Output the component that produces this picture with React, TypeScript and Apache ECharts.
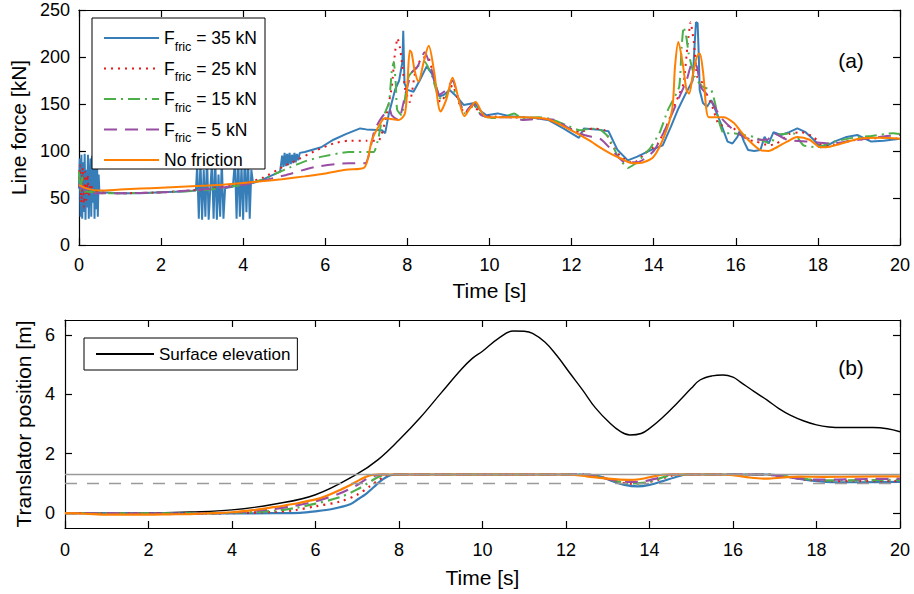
import React, { useEffect, useRef } from "react";
import * as echarts from "echarts";

// ---------- data ----------
const seriesNames = ["Ffric = 35 kN", "Ffric = 25 kN", "Ffric = 15 kN", "Ffric = 5 kN", "No friction"];
const surfaceName = "Surface elevation";
const limitLevels = [1.3, 1.0];
const yTicksBottom = [0, 2, 4, 6];

// Line force [kN] vs time [s]
const force35: [number, number][] = [
  [0, 60], [0.02, 92], [0.04, 30], [0.06, 96], [0.08, 28], [0.1, 88], [0.12, 35], [0.14, 97], [0.16, 27], [0.18, 80],
  [0.2, 40], [0.22, 96], [0.24, 28], [0.26, 70], [0.28, 92], [0.3, 30], [0.32, 95], [0.34, 45], [0.36, 97], [0.38, 28],
  [0.4, 85], [0.42, 38], [0.44, 96], [0.46, 30], [0.48, 75], [0.5, 55], [0.55, 56], [1, 55], [1.5, 55], [2, 56], [2.5, 57], [2.85, 58],
  [2.88, 85], [2.92, 28], [2.96, 90], [3.0, 27], [3.04, 80], [3.08, 30], [3.12, 95], [3.16, 27], [3.2, 60], [3.24, 88],
  [3.28, 28], [3.32, 92], [3.36, 27], [3.4, 75], [3.44, 30], [3.48, 90], [3.52, 28], [3.56, 60], [3.6, 61], [3.75, 62],
  [3.8, 90], [3.84, 28], [3.88, 95], [3.92, 30], [3.96, 85], [4.0, 27], [4.04, 97], [4.08, 35], [4.12, 92], [4.16, 28],
  [4.2, 80], [4.24, 66], [4.5, 70], [4.9, 78],
  [4.95, 95], [4.98, 83], [5.01, 98], [5.04, 84], [5.07, 97], [5.1, 85], [5.13, 98], [5.16, 86], [5.19, 96], [5.22, 87],
  [5.25, 98], [5.28, 88], [5.31, 97], [5.34, 90], [5.38, 98],
  [5.5, 99], [5.9, 104], [6.2, 112], [6.5, 118], [6.85, 124], [7.0, 123], [7.38, 122], [7.46, 119], [7.55, 140], [7.7, 165],
  [7.8, 175], [7.88, 195], [7.9, 228], [7.93, 172], [8.0, 165], [8.15, 163], [8.3, 175], [8.47, 190], [8.6, 182], [8.78, 158],
  [8.9, 160], [9.03, 165], [9.2, 158], [9.37, 149], [9.5, 150], [9.64, 151], [9.8, 142], [9.93, 138], [10.2, 140], [10.5, 137],
  [10.8, 136], [11.1, 135], [11.43, 133], [11.8, 124], [12.18, 114], [12.3, 124], [12.6, 123], [12.9, 121], [13.12, 101], [13.37, 90],
  [13.6, 94], [13.93, 101], [14.22, 106], [14.42, 126], [14.6, 145], [14.78, 161], [14.95, 175], [15.0, 215], [15.03, 237], [15.07, 236],
  [15.1, 200], [15.12, 165], [15.2, 151], [15.3, 147], [15.4, 154], [15.5, 144], [15.63, 130], [15.8, 110], [15.92, 108], [16.04, 115],
  [16.1, 122], [16.2, 110], [16.3, 101], [16.45, 100], [16.6, 101], [16.7, 115], [16.8, 108], [16.92, 120], [17.1, 117], [17.3, 120],
  [17.5, 124], [17.7, 120], [17.9, 112], [18.06, 104], [18.2, 105], [18.4, 110], [18.7, 115], [18.96, 117], [19.3, 110], [19.6, 111], [20, 113],
];
const force25: [number, number][] = [
  [0, 70], [0.03, 85], [0.06, 45], [0.09, 82], [0.12, 40], [0.15, 78], [0.18, 48], [0.21, 75], [0.24, 52], [0.28, 65], [0.35, 58],
  [0.5, 56], [1, 55], [2, 56], [3, 59], [4, 65], [4.5, 72], [5, 84], [5.2, 88], [5.75, 100], [6.2, 108], [6.57, 111], [7.0, 111],
  [7.3, 111], [7.45, 130], [7.62, 168], [7.7, 205], [7.76, 220], [7.82, 210], [7.88, 190], [7.95, 165], [8.06, 152], [8.2, 186],
  [8.35, 199], [8.5, 200], [8.65, 178], [8.8, 152], [8.95, 160], [9.1, 170], [9.25, 152], [9.4, 140], [9.6, 148], [9.8, 140],
  [10.0, 137], [10.5, 136], [11, 135], [11.4, 134], [11.8, 127], [12.2, 120], [12.5, 124], [12.8, 122], [12.96, 108], [13.2, 94],
  [13.5, 87], [13.8, 98], [14.1, 108], [14.3, 125], [14.47, 144], [14.6, 158], [14.73, 172], [14.83, 215], [14.9, 237], [14.98, 215],
  [15.06, 179], [15.2, 172], [15.3, 160], [15.43, 147], [15.58, 128], [15.7, 127], [15.9, 126], [16.1, 118], [16.3, 112], [16.5, 110],
  [16.8, 106], [17.0, 108], [17.3, 118], [17.6, 120], [17.9, 115], [18.1, 106], [18.4, 107], [18.8, 111], [19.2, 113], [19.6, 114], [20, 113],
];
const force15: [number, number][] = [
  [0, 78], [0.04, 58], [0.08, 72], [0.12, 56], [0.2, 57], [0.5, 55], [1, 55], [2, 56], [3, 58], [4, 64], [4.5, 70], [5, 80],
  [5.5, 89], [5.92, 94], [6.57, 99], [7.18, 99], [7.3, 115], [7.38, 133], [7.55, 151], [7.62, 185], [7.67, 195], [7.72, 170],
  [7.75, 144], [7.86, 138], [8.03, 179], [8.2, 188], [8.42, 195], [8.6, 180], [8.76, 157], [8.9, 155], [9.05, 168], [9.2, 160],
  [9.4, 140], [9.6, 150], [9.8, 138], [10.1, 135], [10.4, 137], [10.6, 140], [10.8, 135], [11.2, 136], [11.5, 134], [11.9, 127],
  [12.2, 122], [12.47, 124], [12.72, 122], [12.9, 115], [13.13, 94], [13.37, 82], [13.6, 88], [13.93, 104], [14.15, 120], [14.35, 144],
  [14.62, 168], [14.68, 210], [14.73, 232], [14.8, 220], [14.85, 204], [15.0, 179], [15.2, 168], [15.4, 165], [15.5, 150], [15.58, 133],
  [15.7, 119], [15.95, 119], [16.2, 117], [16.43, 115], [16.84, 108], [17.0, 117], [17.4, 119], [17.65, 106], [17.98, 104], [18.4, 110],
  [18.86, 114], [19.3, 116], [19.83, 119], [20, 118],
];
const force5: [number, number][] = [
  [0, 65], [0.05, 60], [0.1, 62], [0.2, 56], [0.5, 55], [1, 55], [2, 56], [3, 59], [4, 64], [5, 74], [5.75, 83], [6.57, 87],
  [6.97, 87], [7.2, 122], [7.38, 136], [7.57, 144], [7.62, 138], [7.78, 133], [7.95, 160], [8.1, 183], [8.25, 190], [8.42, 205],
  [8.6, 185], [8.78, 160], [8.95, 165], [9.1, 175], [9.25, 155], [9.4, 141], [9.6, 150], [9.8, 138], [10.1, 136], [10.5, 136],
  [10.8, 133], [11.2, 134], [11.6, 133], [11.9, 125], [12.3, 117], [12.7, 113], [13.0, 100], [13.3, 88], [13.6, 88], [14.0, 100],
  [14.3, 125], [14.6, 155], [14.8, 175], [14.95, 195], [15.05, 190], [15.15, 168], [15.3, 160], [15.45, 150], [15.63, 136], [15.95, 122],
  [16.2, 115], [16.43, 112], [16.77, 112], [16.9, 119], [17.25, 112], [17.74, 110], [18.3, 108], [18.7, 110], [19.0, 112], [19.5, 115], [20, 117],
];
const forceNone: [number, number][] = [
  [0, 64], [0.2, 60], [0.5, 58], [1, 59], [1.5, 60], [2, 61], [2.5, 62], [3, 63], [3.5, 64], [4, 66], [4.5, 68], [4.95, 70],
  [5.5, 73], [6, 76], [6.5, 80], [6.94, 82], [7.14, 112], [7.3, 126], [7.46, 135], [7.6, 134], [7.79, 133], [7.94, 140], [8.0, 170],
  [8.06, 207], [8.1, 205], [8.18, 185], [8.27, 174], [8.4, 195], [8.52, 212], [8.65, 185], [8.81, 142], [8.95, 155], [9.1, 178],
  [9.25, 155], [9.39, 137], [9.52, 145], [9.66, 152], [9.8, 142], [9.93, 136], [10.3, 136], [10.8, 136], [11.4, 134], [11.9, 124],
  [12.4, 112], [12.72, 103], [12.96, 97], [13.2, 92], [13.5, 87], [13.75, 88], [14.0, 94], [14.25, 115], [14.45, 144], [14.52, 190],
  [14.6, 216], [14.7, 195], [14.8, 165], [14.86, 161], [14.95, 180], [15.05, 200], [15.12, 204], [15.2, 185], [15.34, 136], [15.5, 136],
  [15.7, 136], [15.95, 130], [16.1, 122], [16.3, 112], [16.6, 101], [16.8, 100], [17.0, 104], [17.25, 110], [17.5, 115], [17.8, 112],
  [18.06, 104], [18.2, 104], [18.5, 107], [19.0, 113], [19.5, 114], [20, 113],
];

// Translator position / surface elevation [m] vs time [s]
const surface: [number, number][] = [
  [0, 0], [1, 0], [2, 0.01], [3, 0.04], [4, 0.11], [5, 0.3], [6, 0.62], [7, 1.32], [7.5, 1.8], [8, 2.46], [8.5, 3.2], [9, 4.03],
  [9.5, 4.85], [9.75, 5.2], [10, 5.45], [10.4, 5.9], [10.74, 6.13], [11.0, 6.12], [11.2, 6.05], [11.5, 5.75], [11.77, 5.32], [12.1, 4.7],
  [12.4, 4.14], [12.7, 3.55], [13.05, 3.03], [13.3, 2.75], [13.53, 2.63], [13.8, 2.68], [14.01, 2.86], [14.3, 3.2], [14.66, 3.7],
  [15.0, 4.2], [15.21, 4.48], [15.5, 4.62], [15.76, 4.65], [16.0, 4.58], [16.17, 4.42], [16.5, 4.1], [16.81, 3.81], [17.1, 3.52],
  [17.37, 3.3], [17.7, 3.1], [18.0, 2.97], [18.3, 2.9], [18.63, 2.88], [19.0, 2.88], [19.35, 2.88], [19.7, 2.84], [20, 2.74],
];
const pos35: [number, number][] = [
  [0, 0], [2, -0.01], [4, -0.01], [5, 0], [5.63, 0.01], [6, 0.06], [6.4, 0.14], [6.83, 0.3], [7.0, 0.45], [7.22, 0.66], [7.4, 0.88],
  [7.54, 1.06], [7.68, 1.2], [7.8, 1.28], [8, 1.3], [12.5, 1.3], [12.8, 1.24], [13.1, 1.08], [13.4, 0.95], [13.72, 0.9], [14.0, 0.95],
  [14.3, 1.07], [14.6, 1.2], [14.9, 1.3], [16.8, 1.3], [17.2, 1.25], [17.6, 1.15], [18, 1.08], [18.4, 1.04], [19, 1.04], [20, 1.05],
];
const pos25: [number, number][] = [
  [0, 0], [3, -0.01], [4, 0], [5, 0.04], [5.5, 0.1], [6, 0.23], [6.59, 0.39], [7.0, 0.62], [7.3, 0.9], [7.5, 1.1], [7.7, 1.27],
  [7.85, 1.3], [12.5, 1.3], [12.9, 1.2], [13.2, 1.06], [13.6, 0.99], [13.9, 1.02], [14.2, 1.12], [14.5, 1.25], [14.75, 1.3],
  [16.8, 1.3], [17.3, 1.22], [17.8, 1.12], [18.3, 1.08], [19, 1.08], [20, 1.08],
];
const pos15: [number, number][] = [
  [0, 0], [3, -0.01], [4, 0.01], [5, 0.08], [5.5, 0.17], [6, 0.32], [6.59, 0.54], [7.0, 0.8], [7.3, 1.05], [7.5, 1.22], [7.7, 1.3],
  [12.4, 1.3], [12.8, 1.22], [13.2, 1.08], [13.6, 1.0], [13.9, 1.03], [14.2, 1.15], [14.5, 1.28], [14.7, 1.3], [16.8, 1.3],
  [17.3, 1.24], [17.8, 1.14], [18.3, 1.1], [19, 1.11], [20, 1.12],
];
const pos5: [number, number][] = [
  [0, 0], [3, -0.02], [4, 0.02], [5, 0.14], [5.5, 0.25], [6, 0.4], [6.59, 0.67], [7.0, 0.95], [7.25, 1.17], [7.5, 1.29], [7.6, 1.3],
  [12.3, 1.3], [12.7, 1.24], [13.1, 1.12], [13.5, 1.05], [13.85, 1.07], [14.2, 1.18], [14.5, 1.3], [16.6, 1.3], [17.0, 1.27],
  [17.5, 1.18], [18, 1.13], [18.5, 1.13], [19.3, 1.15], [20, 1.16],
];
const posNone: [number, number][] = [
  [0, 0], [0.5, -0.02], [1, -0.05], [1.5, -0.05], [2, -0.05], [2.5, -0.04], [3, -0.03], [4, 0.03], [4.5, 0.1], [5, 0.2], [5.23, 0.25],
  [5.6, 0.34], [6.03, 0.47], [6.3, 0.6], [6.59, 0.78], [6.8, 0.92], [7.06, 1.12], [7.3, 1.27], [7.5, 1.3], [12.0, 1.3], [12.5, 1.24],
  [13.0, 1.16], [13.5, 1.12], [13.8, 1.15], [14.1, 1.24], [14.4, 1.3], [15.6, 1.3], [16.0, 1.28], [16.4, 1.2], [16.8, 1.16],
  [17.2, 1.2], [17.6, 1.23], [18.2, 1.22], [19, 1.23], [20, 1.24],
];

const forceData = [force35, force25, force15, force5, forceNone];
const posData = [pos35, pos25, pos15, pos5, posNone];

// ---------- styles ----------
const FONT = "Liberation Sans";
const colors = ["#377eb8", "#e41a1c", "#4daf4a", "#984ea3", "#ff7f00"];
const dashes: any[] = ["solid", [2, 5], [12, 5, 2, 5], [13, 8], "solid"];
const smoothing = [0, 0.15, 0.15, 0.2, 0.3];

function xAxisPair(grid: number, labelMargin: number, nameGap: number) {
  const common = {
    gridIndex: grid, type: "value", min: 0, max: 20, interval: 2,
    axisLine: { onZero: false, lineStyle: { color: "#000", width: 1.2 } },
    axisTick: { inside: true, length: 7, lineStyle: { color: "#000", width: 1.2 } },
    splitLine: { show: false },
  };
  return [
    {
      ...common, position: "bottom",
      axisLabel: { fontSize: 18, margin: labelMargin, color: "#000", fontFamily: FONT },
      name: "Time [s]", nameLocation: "middle", nameGap,
      nameTextStyle: { fontSize: 21, color: "#000", fontFamily: FONT },
    },
    { ...common, position: "top", axisLabel: { show: false } },
  ];
}

export default function App() {
  const ref = useRef<HTMLDivElement>(null);
  useEffect(() => {
    if (!ref.current) return;
    const chart = echarts.init(ref.current, null, { renderer: "svg" });

    const yCommon = {
      type: "value",
      axisLine: { onZero: false, lineStyle: { color: "#000", width: 1.2 } },
      axisTick: { inside: true, length: 7, lineStyle: { color: "#000", width: 1.2 } },
      splitLine: { show: false },
    };

    const series: any[] = [];
    // reference limits (drawn beneath)
    series.push({
      name: "limits", type: "line", xAxisIndex: 2, yAxisIndex: 2, data: [], silent: true,
      markLine: {
        symbol: ["none", "none"], silent: true, label: { show: false },
        data: [
          { yAxis: limitLevels[0], lineStyle: { color: "#9a9a9a", width: 1.3, type: "solid" } },
          { yAxis: limitLevels[1], lineStyle: { color: "#9a9a9a", width: 1.3, type: [12, 10] } },
        ],
      },
    });
    series.push({
      name: surfaceName, type: "line", xAxisIndex: 2, yAxisIndex: 2, data: surface, symbol: "none",
      smooth: 0.4, lineStyle: { color: "#000", width: 1.4 }, itemStyle: { color: "#000" },
    });
    seriesNames.forEach((n, i) => {
      series.push({
        name: n, type: "line", xAxisIndex: 0, yAxisIndex: 0, data: forceData[i], symbol: "none",
        smooth: smoothing[i], lineStyle: { color: colors[i], width: 2, type: dashes[i] }, itemStyle: { color: colors[i] },
      });
    });
    seriesNames.forEach((n, i) => {
      series.push({
        name: n, type: "line", xAxisIndex: 2, yAxisIndex: 2, data: posData[i], symbol: "none",
        smooth: 0.3, lineStyle: { color: colors[i], width: 2.2, type: dashes[i] }, itemStyle: { color: colors[i] },
      });
    });

    const legendRich = {
      F: { fontSize: 17.5, lineHeight: 30, fontFamily: FONT, color: "#000" },
      sub: { fontSize: 12.5, lineHeight: 14, verticalAlign: "bottom", fontFamily: FONT, color: "#000" },
      m: { fontSize: 17.5, lineHeight: 30, fontFamily: FONT, color: "#000" },
    };

    chart.setOption({
      animation: false,
      backgroundColor: "#fff",
      grid: [
        { left: 76, top: 10, width: 824, height: 235 },
        { left: 65, top: 320, width: 835, height: 208 },
      ],
      xAxis: [...xAxisPair(0, 11, 35), ...xAxisPair(1, 13, 39)],
      yAxis: [
        {
          ...yCommon, gridIndex: 0, position: "left", min: 0, max: 250, interval: 50,
          axisLabel: { fontSize: 18, margin: 9, color: "#000", fontFamily: FONT },
          name: "Line force [kN]", nameLocation: "middle", nameGap: 45,
          nameTextStyle: { fontSize: 21, color: "#000", fontFamily: FONT },
        },
        { ...yCommon, gridIndex: 0, position: "right", min: 0, max: 250, interval: 50, axisLabel: { show: false } },
        {
          ...yCommon, gridIndex: 1, position: "left", min: -0.5, max: 6.5,
          axisTick: { ...yCommon.axisTick, customValues: yTicksBottom },
          axisLabel: { fontSize: 18, margin: 10, color: "#000", fontFamily: FONT, customValues: yTicksBottom },
          name: "Translator position [m]", nameLocation: "middle", nameGap: 25,
          nameTextStyle: { fontSize: 21, color: "#000", fontFamily: FONT },
        },
        {
          ...yCommon, gridIndex: 1, position: "right", min: -0.5, max: 6.5,
          axisTick: { ...yCommon.axisTick, customValues: yTicksBottom },
          axisLabel: { show: false, customValues: yTicksBottom },
        },
      ],
      legend: [
        {
          data: seriesNames, orient: "vertical", left: 92, top: 18,
          itemWidth: 55, itemHeight: 14, itemGap: 6.5,
          padding: [11, 8, 0, 11], backgroundColor: "#fff", borderColor: "#000", borderWidth: 1,
          borderRadius: 0, selectedMode: false,
          itemStyle: { opacity: 0, borderWidth: 0 },
          textStyle: { rich: legendRich, fontFamily: FONT, fontSize: 17.5, color: "#000" },
          formatter: (name: string) =>
            name.startsWith("Ffric") ? `{F|F}{sub|fric}{m|${name.slice(5)}}` : `{m|${name}}`,
        },
        {
          data: [surfaceName], orient: "vertical", left: 84, top: 338,
          itemWidth: 58, itemHeight: 14, itemGap: 0,
          padding: [6, 7, 6, 11], backgroundColor: "#fff", borderColor: "#000", borderWidth: 1,
          borderRadius: 0, selectedMode: false,
          itemStyle: { opacity: 0, borderWidth: 0 },
          textStyle: { fontFamily: FONT, fontSize: 17, color: "#000", lineHeight: 20 },
        },
      ],
      graphic: [
        { type: "text", x: 851, y: 60, style: { text: "(a)", font: `21px ${FONT}`, fill: "#000", textAlign: "center", textVerticalAlign: "middle" } },
        { type: "text", x: 851, y: 367, style: { text: "(b)", font: `21px ${FONT}`, fill: "#000", textAlign: "center", textVerticalAlign: "middle" } },
      ],
      series,
    });
    return () => chart.dispose();
  }, []);
  return <div ref={ref} style={{ position: "fixed", left: 0, top: 0, width: 914, height: 594, background: "#fff" }} />;
}
